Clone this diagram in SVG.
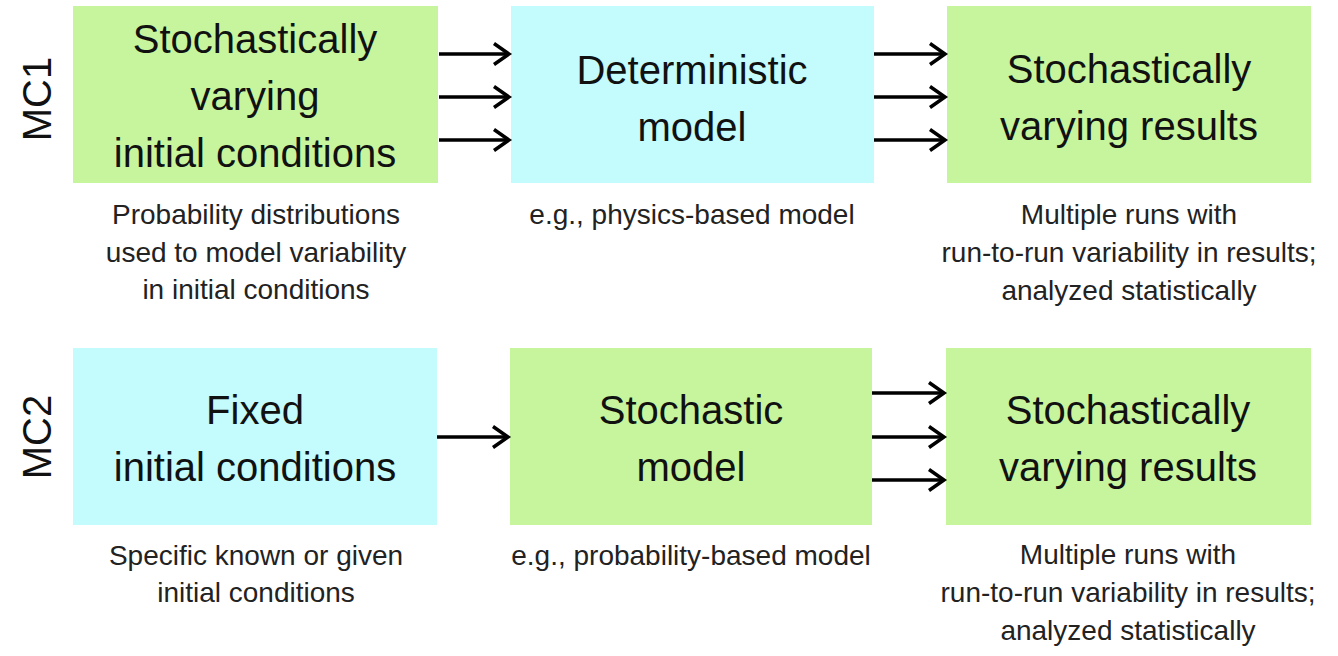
<svg xmlns="http://www.w3.org/2000/svg" width="1338" height="656" viewBox="0 0 1338 656">
<defs>
<style>
.g{fill:#c7f59d}
.c{fill:#c4fbfc}
.t{font-family:"Liberation Sans",Arial,sans-serif;font-size:40px;fill:#111;text-anchor:middle}
.cap{font-family:"Liberation Sans",Arial,sans-serif;font-size:28px;fill:#222;text-anchor:middle}
.lbl{font-family:"Liberation Sans",Arial,sans-serif;font-size:40px;fill:#111;text-anchor:middle}
.a{stroke:#000;stroke-width:3.5;fill:none;marker-end:url(#ah)}
</style>
<marker id="ah" markerUnits="userSpaceOnUse" markerWidth="26" markerHeight="28" refX="19" refY="14" orient="auto">
<path d="M4,3.5 L19,14 L4,24.5" fill="none" stroke="#000" stroke-width="3.5" stroke-linejoin="miter"/>
</marker>
</defs>
<rect width="1338" height="656" fill="#fff"/>
<text class="lbl" transform="translate(51,99) rotate(-90)">MC1</text>
<text class="lbl" transform="translate(51,437) rotate(-90)">MC2</text>
<g id="mc1-input">
<rect class="g" x="73" y="6" width="365" height="177"/>
<text class="t" x="255" y="53">Stochastically</text>
<text class="t" x="255" y="110">varying</text>
<text class="t" x="255" y="167">initial conditions</text>
<text class="cap" x="256" y="224">Probability distributions</text>
<text class="cap" x="256" y="262">used to model variability</text>
<text class="cap" x="256" y="299">in initial conditions</text>
</g>
<g id="mc1-model">
<rect class="c" x="511" y="6" width="363" height="177"/>
<text class="t" x="692" y="84">Deterministic</text>
<text class="t" x="692" y="141">model</text>
<text class="cap" x="692" y="224">e.g., physics-based model</text>
</g>
<g id="mc1-results">
<rect class="g" x="947" y="6" width="364" height="177"/>
<text class="t" x="1129" y="83">Stochastically</text>
<text class="t" x="1129" y="140">varying results</text>
<text class="cap" x="1129" y="224">Multiple runs with</text>
<text class="cap" x="1129" y="262">run-to-run variability in results;</text>
<text class="cap" x="1129" y="300">analyzed statistically</text>
</g>
<g id="mc2-input">
<rect class="c" x="73" y="348" width="364" height="177"/>
<text class="t" x="255" y="424">Fixed</text>
<text class="t" x="255" y="481">initial conditions</text>
<text class="cap" x="256" y="565">Specific known or given</text>
<text class="cap" x="256" y="602">initial conditions</text>
</g>
<g id="mc2-model">
<rect class="g" x="510" y="348" width="362" height="177"/>
<text class="t" x="691" y="424">Stochastic</text>
<text class="t" x="691" y="481">model</text>
<text class="cap" x="691" y="565">e.g., probability-based model</text>
</g>
<g id="mc2-results">
<rect class="g" x="946" y="348" width="365" height="177"/>
<text class="t" x="1128" y="424">Stochastically</text>
<text class="t" x="1128" y="481">varying results</text>
<text class="cap" x="1128" y="564">Multiple runs with</text>
<text class="cap" x="1128" y="602">run-to-run variability in results;</text>
<text class="cap" x="1128" y="640">analyzed statistically</text>
</g>
<g id="connectors">
<path class="a" d="M439,54 H509"/>
<path class="a" d="M439,97 H509"/>
<path class="a" d="M439,140 H509"/>
<path class="a" d="M874,54 H945"/>
<path class="a" d="M874,97 H945"/>
<path class="a" d="M874,140 H945"/>
<path class="a" d="M437,437 H508"/>
<path class="a" d="M872,393 H944"/>
<path class="a" d="M872,437 H944"/>
<path class="a" d="M872,480 H944"/>
</g>
</svg>
